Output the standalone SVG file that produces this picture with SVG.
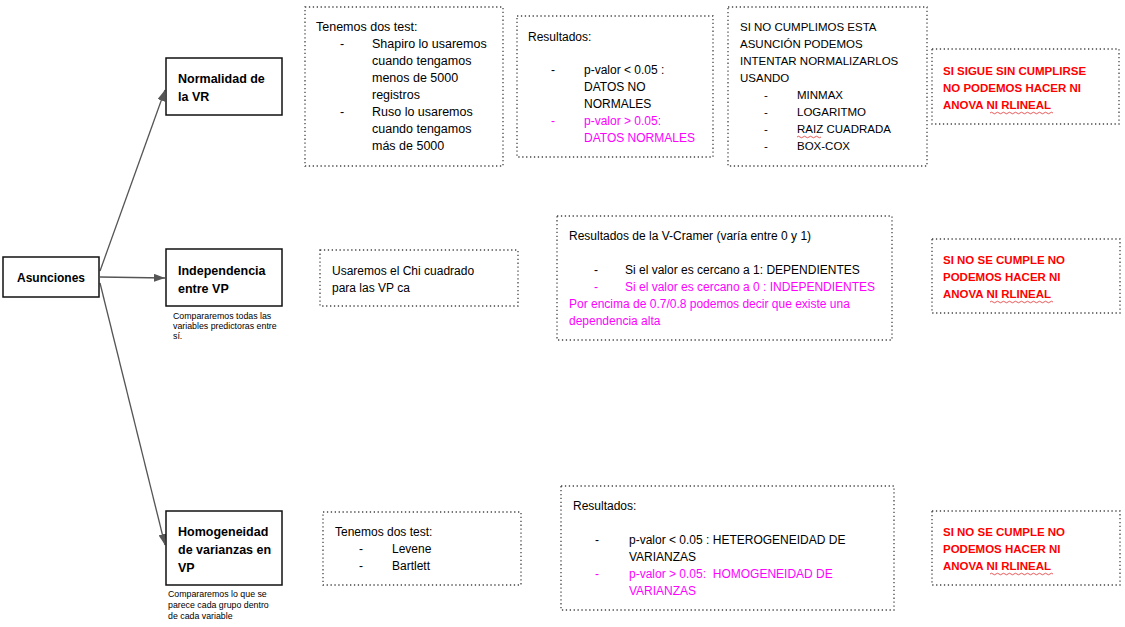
<svg xmlns="http://www.w3.org/2000/svg" width="1125" height="627" viewBox="0 0 1125 627">
<defs>
<style>
.solid{fill:#fff;stroke:#111;stroke-width:1.5}
.dot{fill:#fff;stroke:#444;stroke-width:1.3;stroke-dasharray:1.3 2.6}
.nl{font-family:"Liberation Sans",Arial,sans-serif;font-weight:bold;font-size:12.5px;fill:#000}
.t{font-family:"Liberation Sans",Arial,sans-serif;font-size:12.5px;fill:#000}
.s{font-family:"Liberation Sans",Arial,sans-serif;font-size:11.5px;fill:#000}
.w{font-size:12px}
.m{fill:#FF00FF}
.r{font-family:"Liberation Sans",Arial,sans-serif;font-weight:bold;font-size:11.5px;fill:#FF0000}
.cap{font-family:"Liberation Sans",Arial,sans-serif;font-size:8.8px;fill:#000}
.conn{stroke:#555;stroke-width:1.3;fill:none}
.sq{stroke:#e03030;stroke-width:0.8;fill:none}
</style>
<marker id="ah" viewBox="0 0 10 10" refX="10" refY="5" markerWidth="11" markerHeight="8" markerUnits="userSpaceOnUse" orient="auto" preserveAspectRatio="none">
<path d="M0,0 L10,5 L0,10 z" fill="#555"/>
</marker>
</defs>

<g id="connectors">
<line class="conn" x1="100" y1="271" x2="165" y2="90" marker-end="url(#ah)"/>
<line class="conn" x1="100" y1="277" x2="165" y2="278" marker-end="url(#ah)"/>
<line class="conn" x1="100" y1="283" x2="165" y2="545" marker-end="url(#ah)"/>
</g>

<g id="asunciones">
<rect class="solid" x="3" y="257" width="96" height="40"/>
<text class="nl" x="51" y="281.5" text-anchor="middle" style="font-size:12px">Asunciones</text>
</g>

<g id="normalidad">
<rect class="solid" x="166" y="58" width="116" height="57"/>
<text class="nl" x="178" y="83">Normalidad de</text>
<text class="nl" x="178" y="101">la VR</text>
</g>

<g id="independencia">
<rect class="solid" x="166" y="249" width="116" height="57"/>
<text class="nl" x="178" y="275">Independencia</text>
<text class="nl" x="178" y="293">entre VP</text>
<text class="cap" x="173" y="319">Compararemos todas las</text>
<text class="cap" x="173" y="329">variables predictoras entre</text>
<text class="cap" x="173" y="338.5">sí.</text>
</g>

<g id="homogeneidad">
<rect class="solid" x="166" y="511" width="116" height="74"/>
<text class="nl" x="178" y="536">Homogeneidad</text>
<text class="nl" x="178" y="554">de varianzas en</text>
<text class="nl" x="178" y="572">VP</text>
<text class="cap" x="168" y="597">Compararemos lo que se</text>
<text class="cap" x="168" y="608">parece cada grupo dentro</text>
<text class="cap" x="168" y="618.5">de cada variable</text>
</g>

<g id="test-normalidad">
<rect class="dot" x="305" y="7" width="198" height="159"/>
<text class="t" x="316" y="31">Tenemos dos test:</text>
<text class="t" x="340" y="48">-</text>
<text class="t" x="372" y="48">Shapiro lo usaremos</text>
<text class="t" x="372" y="65">cuando tengamos</text>
<text class="t" x="372" y="82">menos de 5000</text>
<text class="t" x="372" y="99">registros</text>
<text class="t" x="340" y="116">-</text>
<text class="t" x="372" y="116">Ruso lo usaremos</text>
<text class="t" x="372" y="133">cuando tengamos</text>
<text class="t" x="372" y="150">más de 5000</text>
</g>

<g id="resultados-normalidad">
<rect class="dot" x="517" y="16" width="196" height="141"/>
<text class="s w" x="528" y="41">Resultados:</text>
<text class="s w" x="551" y="74">-</text>
<text class="s w" x="584" y="74">p-valor &lt; 0.05 :</text>
<text class="s w" x="584" y="91">DATOS NO</text>
<text class="s w" x="584" y="108">NORMALES</text>
<text class="s w m" x="551" y="125">-</text>
<text class="s w m" x="584" y="125">p-valor &gt; 0.05:</text>
<text class="s w m" x="584" y="142">DATOS NORMALES</text>
</g>

<g id="normalizar">
<rect class="dot" x="728" y="7" width="199" height="159"/>
<text class="s" x="740" y="31">SI NO CUMPLIMOS ESTA</text>
<text class="s" x="740" y="48">ASUNCIÓN PODEMOS</text>
<text class="s" x="740" y="65">INTENTAR NORMALIZARLOS</text>
<text class="s" x="740" y="82">USANDO</text>
<text class="s" x="764" y="99">-</text>
<text class="s" x="797" y="99">MINMAX</text>
<text class="s" x="764" y="116">-</text>
<text class="s" x="797" y="116">LOGARITMO</text>
<text class="s" x="764" y="133">-</text>
<text class="s" x="797" y="133">RAIZ CUADRADA</text>
<text class="s" x="764" y="150">-</text>
<text class="s" x="797" y="150">BOX-COX</text>
<path class="sq" d="M797,137 q1.5,-1.5 3,0 t3,0 t3,0 t3,0 t3,0 t3,0 t3,0 t3,0"/>
</g>

<g id="aviso-normalidad">
<rect class="dot" x="932" y="49" width="187" height="75"/>
<text class="r" x="943" y="75">SI SIGUE SIN CUMPLIRSE</text>
<text class="r" x="943" y="92">NO PODEMOS HACER NI</text>
<text class="r" x="943" y="109">ANOVA NI RLINEAL</text>
<path class="sq" d="M990,113 q1.5,-1.5 3,0 t3,0 t3,0 t3,0 t3,0 t3,0 t3,0 t3,0 t3,0 t3,0 t3,0 t3,0 t3,0 t3,0 t3,0 t3,0 t3,0 t3,0 t3,0 t3,0 t3,0"/>
</g>

<g id="chi-cuadrado">
<rect class="dot" x="320" y="250" width="198" height="56"/>
<text class="s w" x="332" y="275">Usaremos el Chi cuadrado</text>
<text class="s w" x="332" y="292">para las VP ca</text>
</g>

<g id="resultados-vcramer">
<rect class="dot" x="557" y="216" width="335" height="124"/>
<text class="s w" x="569" y="240">Resultados de la V-Cramer (varía entre 0 y 1)</text>
<text class="s w" x="594" y="274">-</text>
<text class="s w" x="625" y="274">Si el valor es cercano a 1: DEPENDIENTES</text>
<text class="s w m" x="594" y="291">-</text>
<text class="s w m" x="625" y="291">Si el valor es cercano a 0 : INDEPENDIENTES</text>
<text class="s w m" x="569" y="308">Por encima de 0.7/0.8 podemos decir que existe una</text>
<text class="s w m" x="569" y="325">dependencia alta</text>
</g>

<g id="aviso-independencia">
<rect class="dot" x="932" y="239" width="188" height="74"/>
<text class="r" x="943" y="264">SI NO SE CUMPLE NO</text>
<text class="r" x="943" y="281">PODEMOS HACER NI</text>
<text class="r" x="943" y="298">ANOVA NI RLINEAL</text>
<path class="sq" d="M990,302 q1.5,-1.5 3,0 t3,0 t3,0 t3,0 t3,0 t3,0 t3,0 t3,0 t3,0 t3,0 t3,0 t3,0 t3,0 t3,0 t3,0 t3,0 t3,0 t3,0 t3,0 t3,0 t3,0"/>
</g>

<g id="test-homogeneidad">
<rect class="dot" x="323" y="512" width="198" height="73"/>
<text class="s w" x="335" y="536">Tenemos dos test:</text>
<text class="s w" x="359" y="553">-</text>
<text class="s w" x="392" y="553">Levene</text>
<text class="s w" x="359" y="570">-</text>
<text class="s w" x="392" y="570">Bartlett</text>
</g>

<g id="resultados-homogeneidad">
<rect class="dot" x="561" y="486" width="333" height="124"/>
<text class="s w" x="573" y="510">Resultados:</text>
<text class="s w" x="595" y="544">-</text>
<text class="s w" x="629" y="544">p-valor &lt; 0.05 : HETEROGENEIDAD DE</text>
<text class="s w" x="629" y="561">VARIANZAS</text>
<text class="s w m" x="595" y="578">-</text>
<text class="s w m" x="629" y="578" xml:space="preserve">p-valor &gt; 0.05:  HOMOGENEIDAD DE</text>
<text class="s w m" x="629" y="595">VARIANZAS</text>
</g>

<g id="aviso-homogeneidad">
<rect class="dot" x="932" y="511" width="188" height="74"/>
<text class="r" x="943" y="536">SI NO SE CUMPLE NO</text>
<text class="r" x="943" y="553">PODEMOS HACER NI</text>
<text class="r" x="943" y="570">ANOVA NI RLINEAL</text>
<path class="sq" d="M990,574 q1.5,-1.5 3,0 t3,0 t3,0 t3,0 t3,0 t3,0 t3,0 t3,0 t3,0 t3,0 t3,0 t3,0 t3,0 t3,0 t3,0 t3,0 t3,0 t3,0 t3,0 t3,0 t3,0"/>
</g>
</svg>
